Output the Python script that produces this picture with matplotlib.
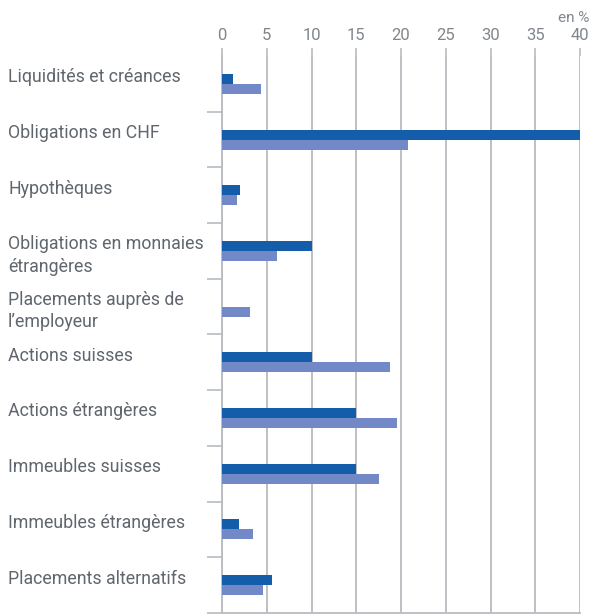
import matplotlib
matplotlib.use("Agg")
import matplotlib.pyplot as plt
import numpy as np

categories = [
    "Liquidités et créances",
    "Obligations en CHF",
    "Hypothèques",
    "Obligations en monnaies\nétrangères",
    "Placements auprès de\nl’employeur",
    "Actions suisses",
    "Actions étrangères",
    "Immeubles suisses",
    "Immeubles étrangères",
    "Placements alternatifs",
]
series_dark = [1.2, 40.0, 2.0, 10.0, 0.0, 10.0, 15.0, 15.0, 1.9, 5.6]
series_light = [4.4, 20.8, 1.7, 6.2, 3.1, 18.8, 19.5, 17.5, 3.5, 4.6]
xticks = [0, 5, 10, 15, 20, 25, 30, 35, 40]

dark_col = "#135dab"
light_col = "#7389c7"
grid_col = "#b8bcc0"
text_col = "#60666d"
tick_col = "#80868c"

plt.rcParams['font.family'] = ['Roboto', 'DejaVu Sans']

fig = plt.figure(figsize=(5.92, 6.15), dpi=100)
ax = fig.add_axes([222/592, 1 - 613/615, (580 - 222)/592, (613 - 56)/615])

y = np.arange(len(categories))
h = 0.18
ax.barh(y - h/2, series_dark, height=h, color=dark_col, zorder=3)
ax.barh(y + h/2, series_light, height=h, color=light_col, zorder=3)

ax.set_xlim(0, 40)
ax.set_ylim(len(categories) - 0.5, -0.5)

ax.xaxis.tick_top()
ax.set_xticks(xticks)
ax.set_xticklabels([str(v) for v in xticks])
ax.tick_params(axis='x', which='major', direction='out', length=6, width=1.2,
               color=grid_col, labelcolor=tick_col, labelsize=12, pad=3)
ax.grid(axis='x', color=grid_col, linewidth=1.3, zorder=1)

ax.set_yticks([])
ax.set_yticks(np.arange(len(categories)) + 0.5, minor=True)
ax.tick_params(axis='y', which='minor', direction='out', length=11, width=1.2,
               color=grid_col)
ax.tick_params(axis='y', which='major', length=0)

for s in ['top', 'right']:
    ax.spines[s].set_visible(False)
ax.spines['left'].set_color(grid_col)
ax.spines['left'].set_linewidth(1.3)
ax.spines['bottom'].set_color(grid_col)
ax.spines['bottom'].set_linewidth(1.3)
ax.spines['bottom'].set_zorder(4)

for i, lab in enumerate(categories):
    ax.text(-23.9, i - 0.5 + 0.22, lab, ha='left', va='top', fontsize=12.8,
            color=text_col, linespacing=1.3, clip_on=False)

fig.text(589/592, 1 - 18/615, "en %", ha='right', va='center', fontsize=11,
         color=tick_col)

fig.savefig("out.png", dpi=100)
